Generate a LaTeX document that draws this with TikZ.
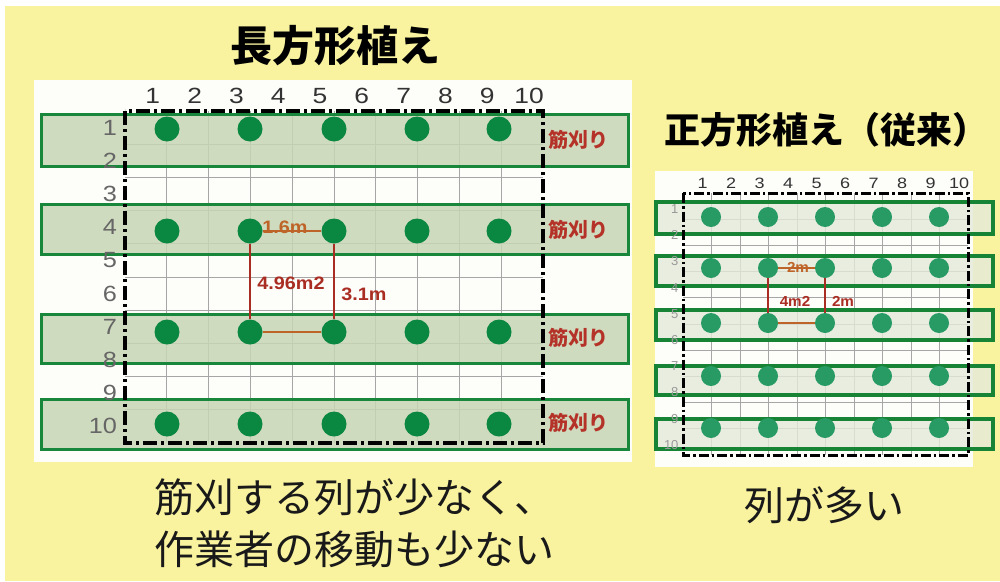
\documentclass[tikz,border=0pt]{standalone}
\usepackage{fontspec}
\setmainfont{Liberation Sans}
\newfontfamily\jp{Noto Sans CJK JP}
\definecolor{bgy}{RGB}{249,243,160}
\definecolor{panelw}{RGB}{253,253,250}
\definecolor{bandLfill}{RGB}{200,214,180}
\definecolor{bandLdraw}{RGB}{24,135,60}
\definecolor{dotLc}{RGB}{10,135,65}
\definecolor{bandRfill}{RGB}{228,234,218}
\definecolor{bandRdraw}{RGB}{22,132,52}
\definecolor{dotRc}{RGB}{40,155,100}
\definecolor{redm}{RGB}{170,45,35}
\definecolor{brownm}{RGB}{190,100,40}
\definecolor{kari}{RGB}{180,50,40}
\tikzset{
  gridline/.style={draw=black!35, line width=0.8pt},
  borderL/.style={draw=black, line width=4pt, dash pattern=on 14pt off 4pt on 3pt off 4pt},
  borderR/.style={draw=black, line width=3pt, dash pattern=on 10pt off 3pt on 2.5pt off 3pt},
  bandL/.style={draw=bandLdraw, line width=3pt, fill=bandLfill, fill opacity=0.85, draw opacity=1, anchor=north west, inner sep=0pt},
  bandR/.style={draw=bandRdraw, line width=4pt, fill=bandRfill, fill opacity=0.8, draw opacity=1, anchor=north west, inner sep=0pt},
  dotL/.style={circle, fill=dotLc, minimum size=25pt, inner sep=0pt},
  dotR/.style={circle, fill=dotRc, minimum size=20pt, inner sep=0pt},
  colL/.style={font=\fontsize{22}{24}\selectfont, text=black!80, xscale=1.2},
  rowL/.style={font=\fontsize{22}{24}\selectfont, text=black!60, anchor=east, xscale=1.15},
  colR/.style={font=\fontsize{15}{17}\selectfont, text=black!80, xscale=1.2},
  rowR/.style={font=\fontsize{13}{15}\selectfont, text=black!40, anchor=east},
  karitxt/.style={font=\jp\bfseries\fontsize{20}{22}\selectfont, text=kari},
  meas/.style={font=\bfseries\fontsize{18}{20}\selectfont, text=redm, inner sep=1pt, xscale=1.1},
  measR/.style={font=\bfseries\fontsize{14.5}{16}\selectfont, text=redm, inner sep=1pt, xscale=1.05},
  redline/.style={draw=redm, line width=1.8pt},
  brownline/.style={draw=brownm, line width=1.8pt},
  title/.style={font=\jp\bfseries\fontsize{42}{46}\selectfont, text=black},
  body/.style={font=\jp\fontsize{40}{44}\selectfont, text=black!90},
}
\begin{document}
\begin{tikzpicture}[x=1pt,y=-1pt]
\useasboundingbox (0,0) rectangle (1000,581);
\fill[white] (0,0) rectangle (1000,581);
\fill[bgy] (5,6) rectangle (1000,581);

% ---------- left panel ----------
\node[fill=panelw, anchor=north west, minimum width=598pt, minimum height=382pt, inner sep=0pt] (panelL) at (34,80) {};
\foreach \i in {1,...,9} \draw[gridline] ({125+41.8*\i},111) -- ({125+41.8*\i},443);
\foreach \j in {1,...,9} \draw[gridline] (125,{111+33.2*\j}) -- (543,{111+33.2*\j});
\foreach \a/\b [count=\k] in {113/165,203/253,313/362,398/448}
  \node[bandL, minimum width=587pt, minimum height={(\b-\a)*1pt}] (bL\k) at (40,\a) {};
\draw[borderL] (125,111) rectangle (543,443);
\foreach \i in {1,...,10} \node[colL] (cl\i) at ({125+41.8*\i-14},96) {\i};
\foreach \i in {1,...,10} \node[rowL] (rl\i) at (121,{128+33.1*(\i-1)}) {\i};
\foreach \r/\y in {1/129,4/231,7/332,10/424}
  \foreach \c/\x in {1/167,3/250,5/334,7/417,9/499}
    \node[dotL] (L\r-\c) at (\x,\y) {};
\foreach \y [count=\k] in {140,230,338,423}
  \node[karitxt] (kari\k) at (578,\y) {筋刈り};
% measurements left
\draw[redline] (L4-3) -- (L7-3);
\draw[redline] (L4-5) -- (L7-5);
\draw[brownline] (L4-3) -- (L4-5);
\draw[brownline] (L7-3) -- (L7-5);
\node[meas, text=brownm] (m16) at (285,227) {1.6m};
\node[meas] (m496) at (291,283) {4.96m2};
\node[meas] (m31) at (364,294) {3.1m};

% ---------- right panel ----------
\node[fill=panelw, anchor=north west, minimum width=318pt, minimum height=296pt, inner sep=0pt] (panelR) at (655,171) {};
\foreach \i in {1,...,9} \draw[gridline] ({683+28.5*\i},193) -- ({683+28.5*\i},455);
\foreach \j in {1,...,9} \draw[gridline] (683,{193+26.2*\j}) -- (968,{193+26.2*\j});
\foreach \a/\b [count=\k] in {200/232,254/284,308/338,364/393,417/447}
  \node[bandR, minimum width=337pt, minimum height={(\b-\a)*1pt}] (bR\k) at (654,\a) {};
\draw[borderR] (683,193) rectangle (968,455);
\foreach \i in {1,...,10} \node[colR] (cr\i) at ({683+28.5*\i-9},183) {\i};
\foreach \i in {1,...,10} \node[rowR] (rr\i) at (682,{209+26.2*(\i-1)}) {\i};
\foreach \r/\y in {1/217,3/268,5/323,7/376,9/428}
  \foreach \c/\x in {1/711,3/768,5/825,7/882,9/939}
    \node[dotR] (R\r-\c) at (\x,\y) {};
\draw[redline, line width=1.3pt] (R3-3) -- (R5-3);
\draw[redline, line width=1.3pt] (R3-5) -- (R5-5);
\draw[brownline, line width=1.3pt] (R3-3) -- (R3-5);
\draw[brownline, line width=1.3pt] (R5-3) -- (R5-5);
\node[measR, text=brownm] (m2a) at (798,267) {2m};
\node[measR] (m4) at (795,301) {4m2};
\node[measR] (m2b) at (843,301) {2m};

% ---------- titles and text ----------
\node[title] (t1) at (335,46) {長方形植え};
\node[title, font=\jp\bfseries\fontsize{36}{40}\selectfont] (t2) at (826,130) {正方形植え（従来）};
\node[body, anchor=west, inner sep=0pt] (b1) at (154,497) {筋刈する列が少なく、};
\node[body, anchor=west, inner sep=0pt] (b2) at (154,549) {作業者の移動も少ない};
\node[body] (b3) at (824,505) {列が多い};
\end{tikzpicture}
\end{document}
